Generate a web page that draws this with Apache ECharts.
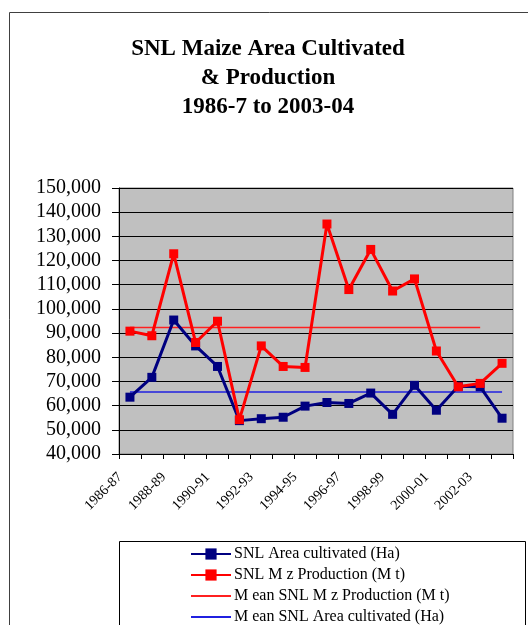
<!DOCTYPE html>
<html lang="en">
<head>
    <meta charset="UTF-8">
    <title>SNL Maize Area Cultivated &amp; Production</title>
    <script src="https://cdn.jsdelivr.net/npm/echarts@6/dist/echarts.min.js"></script>
    <style>
        html, body { margin: 0; padding: 0; background: #fff; }
        #main { width: 528px; height: 625px; }
    </style>
</head>
<body>
    <div id="main"></div>
<script>
    // 数据
    var seasons = ['1986-87', '1987-88', '1988-89', '1989-90', '1990-91', '1991-92', '1992-93', '1993-94', '1994-95',
        '1995-96', '1996-97', '1997-98', '1998-99', '1999-00', '2000-01', '2001-02', '2002-03', '2003-04'];
    var areaHa = [63500, 71700, 95400, 84700, 76200, 53800, 54600, 55200, 59800,
        61300, 60900, 65200, 56400, 68400, 58100, 68000, 67800, 54800];
    var productionMt = [90800, 88900, 122800, 86100, 94900, 54200, 84700, 76200, 75800,
        135100, 108000, 124600, 107400, 112400, 82600, 67800, 69200, 77500];
    var meanProduction = [92300, 92300, 92300, 92300, 92300, 92300, 92300, 92300, 92300,
        92300, 92300, 92300, 92300, 92300, 92300, 92300, 92300, null];
    var meanArea = [65600, 65600, 65600, 65600, 65600, 65600, 65600, 65600, 65600,
        65600, 65600, 65600, 65600, 65600, 65600, 65600, 65600, 65600];
    var yTicks = { min: 40000, max: 150000, step: 10000 };
    var titleLines = ['SNL Maize Area Cultivated', '& Production', '1986-7 to 2003-04'];
    var names = ['SNL Area cultivated (Ha)', 'SNL M z Production (M t)',
        'M ean SNL M z Production (M t)', 'M ean SNL Area cultivated (Ha)'];

    var serif = '"Liberation Serif", "Times New Roman", serif';
    var myChart = echarts.init(document.getElementById('main'));

    var option = {
        animation: false,
        backgroundColor: '#fff',
        title: {
            text: titleLines.join('\n'),
            left: 263,
            top: 30,
            textAlign: 'center',
            textStyle: { fontFamily: serif, fontWeight: 'bold', fontSize: 23, lineHeight: 29, color: '#000' }
        },
        graphic: [
            // 外框
            { type: 'rect', left: 9, top: 12, z: -10, silent: true,
              shape: { width: 560, height: 700 }, style: { fill: '#fff', stroke: '#404040', lineWidth: 1 } },
            // 图例框
            { type: 'rect', left: 119, top: 541, z: -5, silent: true,
              shape: { width: 406, height: 120 }, style: { fill: '#fff', stroke: '#000', lineWidth: 1 } }
        ],
        legend: {
            orient: 'vertical',
            left: 190,
            top: 546,
            height: 120,
            padding: 0,
            itemWidth: 40,
            itemHeight: 14,
            itemGap: 5,
            textStyle: { fontFamily: serif, fontSize: 16, lineHeight: 14, color: '#000', padding: [0, 0, 0, -2] },
            data: [
                { name: names[0] },
                { name: names[1] },
                { name: names[2], itemStyle: { opacity: 0 } },
                { name: names[3], itemStyle: { opacity: 0 } }
            ]
        },
        grid: {
            left: 119, top: 188, width: 394, height: 266,
            show: true, backgroundColor: '#C0C0C0', borderColor: '#808080', borderWidth: 1
        },
        xAxis: {
            type: 'category',
            data: seasons,
            boundaryGap: true,
            axisLine: { lineStyle: { color: '#000', width: 1 } },
            axisTick: { show: true, interval: 0, length: 5, lineStyle: { color: '#000' } },
            axisLabel: {
                interval: 1, rotate: 45, margin: 11, padding: [0, 14, 0, 0],
                fontFamily: serif, fontSize: 14, color: '#000'
            }
        },
        yAxis: {
            type: 'value',
            min: yTicks.min, max: yTicks.max, interval: yTicks.step,
            axisLine: { show: true, lineStyle: { color: '#000', width: 1 } },
            axisTick: { show: true, length: 7, lineStyle: { color: '#000' } },
            splitLine: { lineStyle: { color: '#000', width: 1 } },
            axisLabel: {
                margin: 18, fontFamily: serif, fontSize: 20, color: '#000',
                formatter: function (v) { return v.toLocaleString('en-US'); }
            }
        },
        series: [{
            name: names[0], type: 'line', data: areaHa,
            symbol: 'rect', symbolSize: 9,
            itemStyle: { color: '#000080' },
            lineStyle: { color: '#000080', width: 3 }, z: 4
        }, {
            name: names[1], type: 'line', data: productionMt,
            symbol: 'rect', symbolSize: 9,
            itemStyle: { color: '#FF0000' },
            lineStyle: { color: '#FF0000', width: 3 }, z: 5
        }, {
            name: names[2], type: 'line', data: meanProduction,
            symbol: 'none', itemStyle: { color: '#FF2020' },
            lineStyle: { color: '#FF2020', width: 1.5 }, z: 3
        }, {
            name: names[3], type: 'line', data: meanArea,
            symbol: 'none', itemStyle: { color: '#2020E0' },
            lineStyle: { color: '#2020E0', width: 1.5 }, z: 3
        }]
    };

    myChart.setOption(option);
</script>
</body>
</html>
